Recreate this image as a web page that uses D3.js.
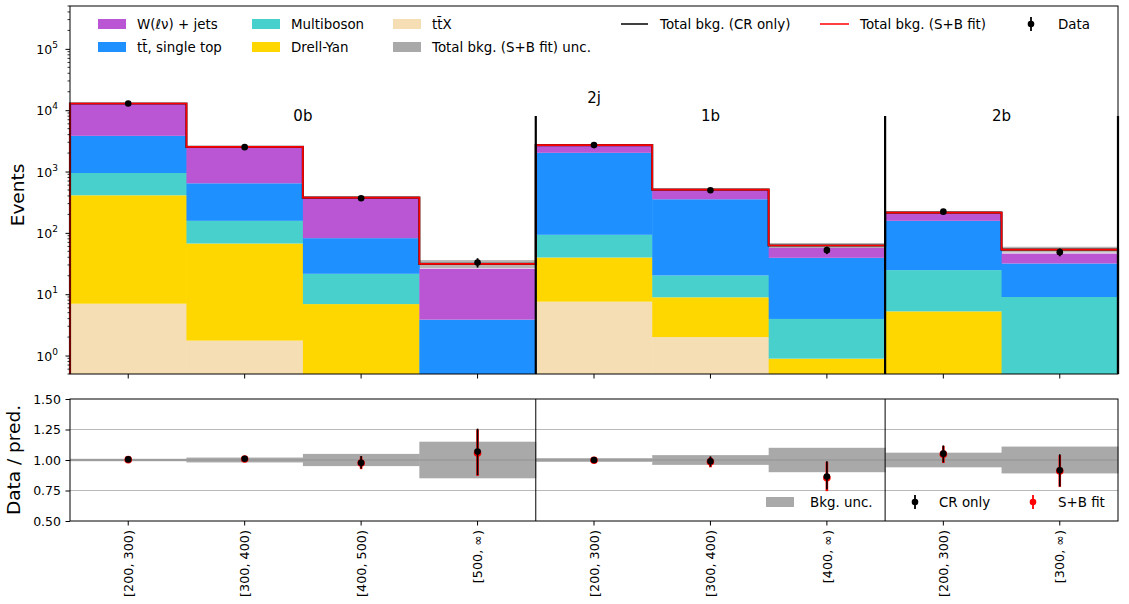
<!DOCTYPE html>
<html><head><meta charset="utf-8">
<script src="https://cdn.jsdelivr.net/npm/d3@7"></script>
<style>
body{margin:0;background:#fff;}
text{font-family:"DejaVu Sans",sans-serif;fill:#000;}
</style></head>
<body><svg id="c" width="1129" height="604"></svg>
<script>
// ---------------- data ----------------
const binLabels = ["[200, 300)","[300, 400)","[400, 500)","[500, ∞)","[200, 300)","[300, 400)","[400, ∞)","[200, 300)","[300, ∞)"];
const regions = [{name:"0b", from:0, to:4},{name:"1b", from:4, to:7},{name:"2b", from:7, to:9}];
const processes = ["ttX","DY","Multiboson","ttbar","Wjets"];
const ttX        = [7.0, 1.75, 0.2, 0, 7.55, 2.0, 0, 0, 0];
const DY         = [403, 65.3, 6.7, 0, 32.1, 6.9, 0.89, 5.25, 0];
const Multiboson = [536, 90, 14.6, 0, 53.3, 11.3, 3.06, 19.45, 9.0];
const ttbar      = [2874, 486, 60.5, 3.85, 1927, 333, 35.25, 132.3, 22.7];
const Wjets      = [9030, 1887, 293, 22.15, 640, 143, 17.8, 50, 14.3];
const totalCR    = [12850, 2530, 375, 31.3, 2700, 507, 62.2, 214, 53.5];
const totalSB    = [12850, 2530, 375, 31.3, 2700, 507, 62.2, 214, 53.5];
const bkgUnc     = [0.01, 0.02, 0.05, 0.15, 0.015, 0.04, 0.10, 0.06, 0.11];
const dataVals   = [12850, 2500, 366, 32.9, 2700, 494, 52.3, 222, 48.5];
const dataErr    = [113, 50, 19, 5.7, 52, 22, 7.2, 15, 7];
const ratioCR    = [1.005, 1.01, 0.978, 1.069, 1.0, 0.99, 0.864, 1.052, 0.916];
const ratioCRlo  = [0.995, 0.99, 0.93, 0.875, 0.99, 0.946, 0.76, 0.98, 0.783];
const ratioCRhi  = [1.015, 1.03, 1.033, 1.257, 1.01, 1.03, 0.99, 1.12, 1.047];
const ratioSB    = [1.003, 1.008, 0.975, 1.058, 0.998, 0.985, 0.855, 1.048, 0.91];
const ratioSBlo  = [0.993, 0.988, 0.925, 0.87, 0.988, 0.94, 0.745, 0.975, 0.78];
const ratioSBhi  = [1.013, 1.028, 1.03, 1.25, 1.008, 1.025, 0.985, 1.115, 1.04];
const yTicksTop  = [1, 10, 100, 1000, 10000, 100000];
const yTicksRatio = [0.5, 0.75, 1.0, 1.25, 1.5];
const colors = {ttX:"#F5DEB3", DY:"#FFD700", Multiboson:"#48D1CC", ttbar:"#1E90FF", Wjets:"#BA55D3"};

// ---------------- layout ----------------
const svg = d3.select("#c");
const X0 = 70, X1 = 1118;
const T0 = 6, T1 = 374, R0 = 399, R1 = 521;
const x = d3.scaleBand().domain(d3.range(binLabels.length)).range([X0, X1]).padding(0);
const bw = x.bandwidth();
const y = d3.scaleLog().domain([0.5, 5e5]).range([T1, T0]);
const ry = d3.scaleLinear().domain([0.5, 1.5]).range([R1, R0]);
const edge = i => i < binLabels.length ? x(i) : X1;

// ---------------- top panel ----------------
const tp = svg.append("g");
tp.selectAll("rect.band").data(totalSB).join("rect")
  .attr("x", (d,i)=>x(i)).attr("width", bw)
  .attr("y", (d,i)=>y(d*(1+bkgUnc[i]))).attr("height", (d,i)=>y(d*(1-bkgUnc[i]))-y(d*(1+bkgUnc[i])))
  .attr("fill", "#a9a9a9").attr("opacity", 0.85);

const rows = binLabels.map((b,i)=>({ttX:ttX[i], DY:DY[i], Multiboson:Multiboson[i], ttbar:ttbar[i], Wjets:Wjets[i]}));
const stacked = d3.stack().keys(processes)(rows);
stacked.forEach(layer=>{
  tp.append("g").selectAll("rect").data(layer).join("rect")
    .attr("x", (d,i)=>x(i)).attr("width", bw+0.5)
    .attr("y", d=>y(Math.max(d[1],0.5)))
    .attr("height", d=>Math.max(0, y(Math.max(d[0],0.5)) - y(Math.max(d[1],0.5))))
    .attr("fill", colors[layer.key]);
});

function stepPath(tot){
  const p = d3.path();
  p.moveTo(X0, y(0.5));
  tot.forEach((t,i)=>{ p.lineTo(edge(i), y(t)); p.lineTo(edge(i+1), y(t)); });
  p.lineTo(X1, y(0.5));
  return p.toString();
}
tp.append("path").attr("d", stepPath(totalCR)).attr("fill","none").attr("stroke","#000").attr("stroke-width",2.2).attr("stroke-opacity",0.8);
tp.append("path").attr("d", stepPath(totalSB)).attr("fill","none").attr("stroke","#ff0000").attr("stroke-width",1.7);

const dg = tp.append("g");
dg.selectAll("line").data(dataVals).join("line")
  .attr("x1",(d,i)=>x(i)+bw/2).attr("x2",(d,i)=>x(i)+bw/2)
  .attr("y1",(d,i)=>y(d-dataErr[i])).attr("y2",(d,i)=>y(d+dataErr[i]))
  .attr("stroke","#000").attr("stroke-width",1.8);
dg.selectAll("circle").data(dataVals).join("circle")
  .attr("cx",(d,i)=>x(i)+bw/2).attr("cy",d=>y(d)).attr("r",3.3).attr("fill","#000");

[4,7].forEach(i=>tp.append("line").attr("x1",x(i)).attr("x2",x(i)).attr("y1",116).attr("y2",T1).attr("stroke","#000").attr("stroke-width",2.2));
tp.append("line").attr("x1",X1).attr("x2",X1).attr("y1",116).attr("y2",T1).attr("stroke","#000").attr("stroke-width",2.2);
regions.forEach(r=>{
  tp.append("text").attr("x",(edge(r.from)+edge(r.to))/2).attr("y",121).attr("text-anchor","middle").attr("font-size",15).text(r.name);
});
tp.append("text").attr("x", x(4)+bw/2).attr("y",103).attr("text-anchor","middle").attr("font-size",15).text("2j");

tp.append("rect").attr("x",X0).attr("y",T0).attr("width",X1-X0).attr("height",T1-T0).attr("fill","none").attr("stroke","#000").attr("stroke-width",1);

const ga = tp.append("g").attr("transform",`translate(${X0},0)`).call(d3.axisLeft(y).tickValues(yTicksTop).tickSize(4.5).tickFormat(""));
ga.select(".domain").remove();
const minor = [];
for(let e=-1;e<=5;e++) for(let m=2;m<=9;m++){ const v=m*Math.pow(10,e); if(v>=0.5 && v<=5e5) minor.push(v); }
tp.selectAll("line.minor").data(minor).join("line")
  .attr("x1",X0-2.5).attr("x2",X0).attr("y1",d=>y(d)).attr("y2",d=>y(d)).attr("stroke","#000").attr("stroke-width",0.8);
yTicksTop.forEach(v=>{
  const t = tp.append("text").attr("x",58).attr("y",y(v)+5).attr("text-anchor","end").attr("font-size",12.5);
  t.append("tspan").text("10");
  t.append("tspan").attr("dy",-6).attr("font-size",9).text(Math.round(Math.log10(v)));
});
tp.selectAll("line.xt").data(binLabels).join("line")
  .attr("x1",(d,i)=>x(i)+bw/2).attr("x2",(d,i)=>x(i)+bw/2).attr("y1",T1).attr("y2",T1+4.5).attr("stroke","#000");
tp.append("text").attr("transform",`translate(24,${(T0+T1)/2+5}) rotate(-90)`).attr("text-anchor","middle").attr("font-size",18.5).text("Events");

const leg = svg.append("g");
const patch = (px,py,c)=>leg.append("rect").attr("x",px).attr("y",py).attr("width",28).attr("height",10).attr("fill",c);
const ltext = (px,py,s)=>leg.append("text").attr("x",px).attr("y",py).attr("font-size",13.4).text(s);
patch(98,19,colors.Wjets); ltext(137,29,"W(ℓν) + jets");
patch(98,42,colors.ttbar); ltext(137,52,"tt\u0304, single top");
patch(252,19,colors.Multiboson); ltext(291,29,"Multiboson");
patch(252,42,colors.DY); ltext(291,52,"Drell-Yan");
patch(393,19,colors.ttX); ltext(432,29,"tt\u0304X");
patch(393,42,"#a9a9a9"); ltext(432,52,"Total bkg. (S+B fit) unc.");
leg.append("line").attr("x1",621).attr("x2",648).attr("y1",24).attr("y2",24).attr("stroke","#000").attr("stroke-width",1.5);
ltext(660,29,"Total bkg. (CR only)");
leg.append("line").attr("x1",820).attr("x2",849).attr("y1",24).attr("y2",24).attr("stroke","#ff0000").attr("stroke-width",1.5);
ltext(860,29,"Total bkg. (S+B fit)");
leg.append("line").attr("x1",1031).attr("x2",1031).attr("y1",17).attr("y2",31).attr("stroke","#000").attr("stroke-width",1.8);
leg.append("circle").attr("cx",1031).attr("cy",24).attr("r",3.3).attr("fill","#000");
ltext(1058,29,"Data");

// ---------------- ratio panel ----------------
const rg = svg.append("g");
rg.selectAll("rect.rb").data(bkgUnc).join("rect")
  .attr("x",(d,i)=>x(i)).attr("width",bw+0.5)
  .attr("y",d=>ry(1+d)).attr("height",d=>ry(1-d)-ry(1+d)).attr("fill","#a9a9a9");
[0.75,1.0,1.25].forEach(v=>rg.append("line").attr("x1",X0).attr("x2",X1).attr("y1",ry(v)).attr("y2",ry(v)).attr("stroke","#808080").attr("stroke-opacity",0.55).attr("stroke-width",1.2));
[4,7].forEach(i=>rg.append("line").attr("x1",x(i)).attr("x2",x(i)).attr("y1",R0).attr("y2",R1).attr("stroke","#000").attr("stroke-width",1));
rg.selectAll("line.sb").data(ratioSB).join("line")
  .attr("x1",(d,i)=>x(i)+bw/2).attr("x2",(d,i)=>x(i)+bw/2)
  .attr("y1",(d,i)=>ry(ratioSBlo[i])).attr("y2",(d,i)=>ry(ratioSBhi[i]))
  .attr("stroke","#ff0000").attr("stroke-width",2.6);
rg.selectAll("circle.sb").data(ratioSB).join("circle")
  .attr("cx",(d,i)=>x(i)+bw/2).attr("cy",d=>ry(d)).attr("r",3.8).attr("fill","#ff0000");
rg.selectAll("line.cr").data(ratioCR).join("line")
  .attr("x1",(d,i)=>x(i)+bw/2).attr("x2",(d,i)=>x(i)+bw/2)
  .attr("y1",(d,i)=>ry(ratioCRlo[i])).attr("y2",(d,i)=>ry(ratioCRhi[i]))
  .attr("stroke","#000").attr("stroke-width",1.6);
rg.selectAll("circle.cr").data(ratioCR).join("circle")
  .attr("cx",(d,i)=>x(i)+bw/2).attr("cy",d=>ry(d)).attr("r",3.3).attr("fill","#000");
rg.append("rect").attr("x",X0).attr("y",R0).attr("width",X1-X0).attr("height",R1-R0).attr("fill","none").attr("stroke","#000").attr("stroke-width",1);
const ra = rg.append("g").attr("transform",`translate(${X0},0)`).call(d3.axisLeft(ry).tickValues(yTicksRatio).tickSize(4.5).tickFormat(""));
ra.select(".domain").remove();
yTicksRatio.forEach(v=>rg.append("text").attr("x",61).attr("y",ry(v)+4.5).attr("text-anchor","end").attr("font-size",12.5).text(d3.format(".2f")(v)));
const xa = rg.append("g").attr("transform",`translate(0,${R1})`).call(d3.axisBottom(x).tickSize(4.5).tickFormat(""));
xa.select(".domain").remove();
binLabels.forEach((s,i)=>rg.append("text").attr("transform",`translate(${x(i)+bw/2+4.7},530) rotate(-90)`).attr("text-anchor","end").attr("font-size",12.8).text(s));
rg.append("text").attr("transform",`translate(20,${(R0+R1)/2}) rotate(-90)`).attr("text-anchor","middle").attr("font-size",18.5).text("Data / pred.");
rg.append("rect").attr("x",766).attr("y",497).attr("width",28).attr("height",10).attr("fill","#a9a9a9");
rg.append("text").attr("x",810).attr("y",507).attr("font-size",13.4).text("Bkg. unc.");
rg.append("line").attr("x1",915).attr("x2",915).attr("y1",495).attr("y2",509).attr("stroke","#000").attr("stroke-width",1.8);
rg.append("circle").attr("cx",915).attr("cy",502).attr("r",3.3).attr("fill","#000");
rg.append("text").attr("x",939).attr("y",507).attr("font-size",13.4).text("CR only");
rg.append("line").attr("x1",1033).attr("x2",1033).attr("y1",495).attr("y2",509).attr("stroke","#ff0000").attr("stroke-width",1.8);
rg.append("circle").attr("cx",1033).attr("cy",502).attr("r",3.3).attr("fill","#ff0000");
rg.append("text").attr("x",1058).attr("y",507).attr("font-size",13.4).text("S+B fit");
</script></body></html>
